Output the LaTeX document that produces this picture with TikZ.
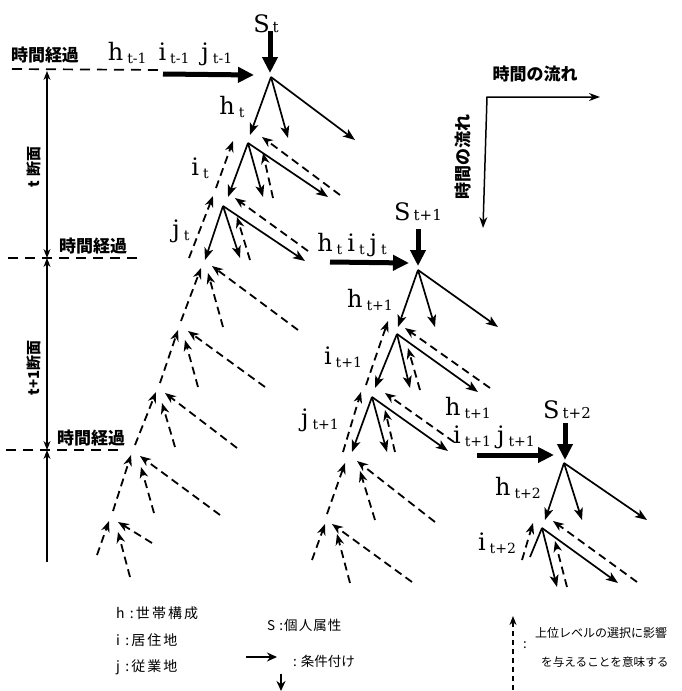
\documentclass[tikz,border=0pt]{standalone}
\usepackage{fontspec}
\setmainfont{DejaVu Serif}
\newfontfamily\jp{Noto Sans CJK JP}
\usetikzlibrary{arrows.meta}
\newcommand\lb[2]{{\fontsize{24}{24}\selectfont #1}\hspace{4pt}\raisebox{-3pt}{\fontsize{14}{14}\selectfont #2}}
\newcommand\lbS[2]{{\fontsize{24}{24}\selectfont #1}\hspace{3pt}{\fontsize{15}{15}\selectfont #2}}
\begin{document}
\begin{tikzpicture}[x=1pt,y=-1pt,
  sol/.style={line width=1.7pt,-{Stealth[length=12pt,width=9pt,inset=3pt]}},
  dsh/.style={line width=1.8pt,dash pattern=on 8pt off 5pt,-{Stealth[length=11pt,width=8.5pt,inset=3.5pt]}},
  plain/.style={line width=1.7pt},
  thk/.style={line width=5pt,-{Triangle[length=16pt,width=15pt]}},
  hd/.style={line width=1.7pt,dash pattern=on 10pt off 7pt},
  ax/.style={line width=1.2pt},
  jt/.style={font=\jp\bfseries\fontsize{17}{17}\selectfont,inner sep=0pt},
  lab/.style={inner sep=0pt},
  leg/.style={font=\jp\fontsize{13}{13}\selectfont,inner sep=0pt,anchor=west},
]
\useasboundingbox (0,0) rectangle (681,691);

% ---------- left time axis ----------
\coordinate (v0) at (47,71);
\coordinate (v1) at (47,258);
\coordinate (v2) at (47,450);
\coordinate (v3) at (47,562);
\draw[ax,{Stealth[length=9pt,width=7pt]}-{Stealth[length=9pt,width=7pt]}] (v0) -- (v1);
\draw[ax,{Stealth[length=9pt,width=7pt]}-{Stealth[length=9pt,width=7pt]}] (v1) -- (v2);
\draw[ax,{Stealth[length=9pt,width=7pt]}-] (v2) -- (v3);
\coordinate (h0a) at (12,69); \coordinate (h0b) at (162,70);
\coordinate (h1a) at (8,258); \coordinate (h1b) at (140,258);
\coordinate (h2a) at (6,450); \coordinate (h2b) at (118,450);
\draw[hd] (h0a) -- (h0b);
\draw[hd] (h1a) -- (h1b);
\draw[hd] (h2a) -- (h2b);
\node[jt] (k0) at (45,55) {時間経過};
\node[jt] (k1) at (93,246) {時間経過};
\node[jt] (k2) at (91,438) {時間経過};
\node[jt,rotate=90,font=\jp\bfseries\fontsize{15}{15}\selectfont] (d1) at (34,167) {t 断面};
\node[jt,rotate=90,font=\jp\bfseries\fontsize{15}{15}\selectfont] (d2) at (34,368) {t+1断面};

% ---------- top right axes ----------
\coordinate (c0) at (487,97);
\coordinate (c1) at (600,97);
\coordinate (c2) at (483,228);
\draw[line width=1.5pt,{Stealth[length=11pt,width=8pt]}-{Stealth[length=11pt,width=8pt]}] (c2) -- (c0) -- (c1);
\node[jt] (f1) at (535,74) {時間の流れ};
\node[jt,rotate=90] (f2) at (463,157) {時間の流れ};

% ---------- tree 1 ----------
\coordinate (T1a) at (270,31); \coordinate (T1b) at (270,73);
\coordinate (T1c) at (163,74); \coordinate (T1d) at (254,75);
\draw[thk] (T1a) -- (T1b);
\draw[thk] (T1c) -- (T1d);
\node[lab] (s1) at (266,24) {\lbS{S}{t}};
\node[lab] (g1) at (170,54) {\lb{h}{t-1}\hspace{12pt}\lb{i}{t-1}\hspace{12pt}\lb{j}{t-1}};
\node[lab] (l1h) at (232,107) {\lb{h}{t}};
\node[lab] (l1i) at (200,168) {\lb{i}{t}};
\node[lab] (l1j) at (181,231) {\lb{j}{t}};

\coordinate (R1) at (271,77);
\coordinate (R1L) at (250,135); \coordinate (R1M) at (288,138); \coordinate (R1R) at (355,140);
\draw[sol] (R1) -- (R1L); \draw[sol] (R1) -- (R1M); \draw[sol] (R1) -- (R1R);
\coordinate (A1) at (248,143);
\coordinate (A1L) at (228,197); \coordinate (A1M) at (263,197); \coordinate (A1R) at (328,197);
\draw[sol] (A1) -- (A1L); \draw[sol] (A1) -- (A1M); \draw[sol] (A1) -- (A1R);
\coordinate (A1dR) at (340,195); \coordinate (A1dRt) at (262,137);
\coordinate (A1dM) at (273,198); \coordinate (A1dMt) at (263,153);
\draw[dsh] (A1dR) -- (A1dRt); \draw[dsh] (A1dM) -- (A1dMt);
\coordinate (B1) at (223,206);
\coordinate (B1L) at (205,260); \coordinate (B1M) at (240,258); \coordinate (B1R) at (305,261);
\draw[sol] (B1) -- (B1L); \draw[sol] (B1) -- (B1M); \draw[sol] (B1) -- (B1R);
\coordinate (B1dR) at (308,251); \coordinate (B1dRt) at (235,198);
\coordinate (B1dM) at (250,260); \coordinate (B1dMt) at (237,217);
\draw[dsh] (B1dR) -- (B1dRt); \draw[dsh] (B1dM) -- (B1dMt);
% spine
\coordinate (p1a) at (216,188); \coordinate (p1b) at (233,141);
\coordinate (p2a) at (189,258); \coordinate (p2b) at (213,196);
\coordinate (p3a) at (181,321); \coordinate (p3b) at (201,268);
\coordinate (p4a) at (160,383); \coordinate (p4b) at (178,330);
\coordinate (p5a) at (135,445); \coordinate (p5b) at (156,392);
\coordinate (p6a) at (113,511); \coordinate (p6b) at (131,455);
\coordinate (p7a) at (97,555);  \coordinate (p7b) at (109,521);
\foreach \k in {1,...,7} {\draw[dsh] (p\k a) -- (p\k b);}
% incoming dashed
\coordinate (q1a) at (223,327); \coordinate (q1b) at (208,273);
\coordinate (r1a) at (298,330); \coordinate (r1b) at (212,266);
\coordinate (q2a) at (198,387); \coordinate (q2b) at (185,340);
\coordinate (r2a) at (265,387); \coordinate (r2b) at (188,331);
\coordinate (q3a) at (175,447); \coordinate (q3b) at (162,403);
\coordinate (r3a) at (237,448); \coordinate (r3b) at (165,393);
\coordinate (q4a) at (154,513); \coordinate (q4b) at (141,467);
\coordinate (r4a) at (220,515); \coordinate (r4b) at (140,456);
\coordinate (q5a) at (130,577); \coordinate (q5b) at (118,532);
\coordinate (r5a) at (152,543); \coordinate (r5b) at (118,522);
\foreach \k in {1,...,5} {\draw[dsh] (q\k a) -- (q\k b); \draw[dsh] (r\k a) -- (r\k b);}

% ---------- tree 2 ----------
\coordinate (T2a) at (418,229); \coordinate (T2b) at (418,266);
\coordinate (T2c) at (330,262); \coordinate (T2d) at (409,263);
\draw[thk] (T2a) -- (T2b);
\draw[thk] (T2c) -- (T2d);
\node[lab] (s2) at (418,212) {\lbS{S}{t+1}};
\node[lab] (g2) at (352,245) {\lb{h}{t}\hspace{5pt}\lb{i}{t}\hspace{5pt}\lb{j}{t}};
\node[lab] (l2h) at (370,300) {\lb{h}{t+1}};
\node[lab] (l2i) at (343,357) {\lb{i}{t+1}};
\node[lab] (l2j) at (320,420) {\lb{j}{t+1}};
\node[lab] (l2x) at (468,408) {\lb{h}{t+1}};
\node[lab] (l2y) at (494,437) {\lb{i}{t+1}\hspace{6pt}\lb{j}{t+1}};

\coordinate (R2) at (418,270);
\coordinate (R2L) at (398,327); \coordinate (R2M) at (435,327); \coordinate (R2R) at (498,327);
\draw[sol] (R2) -- (R2L); \draw[sol] (R2) -- (R2M); \draw[sol] (R2) -- (R2R);
\coordinate (A2) at (397,334);
\coordinate (A2L) at (375,388); \coordinate (A2M) at (410,388); \coordinate (A2R) at (478,392);
\draw[sol] (A2) -- (A2L); \draw[sol] (A2) -- (A2M); \draw[sol] (A2) -- (A2R);
\coordinate (A2dR) at (490,388); \coordinate (A2dRt) at (405,328);
\coordinate (A2dM) at (420,390); \coordinate (A2dMt) at (408,348);
\draw[dsh] (A2dR) -- (A2dRt); \draw[dsh] (A2dM) -- (A2dMt);
\coordinate (B2) at (372,397);
\coordinate (B2L) at (352,452); \coordinate (B2M) at (387,452); \coordinate (B2R) at (448,451);
\draw[sol] (B2) -- (B2L); \draw[sol] (B2) -- (B2M); \draw[sol] (B2) -- (B2R);
\coordinate (B2dR) at (454,442); \coordinate (B2dRt) at (385,393);
\coordinate (B2dM) at (395,452); \coordinate (B2dMt) at (385,410);
\draw[dsh] (B2dR) -- (B2dRt); \draw[dsh] (B2dM) -- (B2dMt);
\coordinate (u1a) at (366,385); \coordinate (u1b) at (388,321);
\coordinate (u2a) at (343,452); \coordinate (u2b) at (361,392);
\coordinate (u3a) at (327,514); \coordinate (u3b) at (345,463);
\coordinate (u4a) at (312,560); \coordinate (u4b) at (325,524);
\foreach \k in {1,...,4} {\draw[dsh] (u\k a) -- (u\k b);}
\coordinate (w1a) at (375,520); \coordinate (w1b) at (360,471);
\coordinate (x1a) at (435,522); \coordinate (x1b) at (357,461);
\coordinate (w2a) at (350,583); \coordinate (w2b) at (337,534);
\coordinate (x2a) at (412,582); \coordinate (x2b) at (332,524);
\foreach \k in {1,2} {\draw[dsh] (w\k a) -- (w\k b); \draw[dsh] (x\k a) -- (x\k b);}

% ---------- tree 3 ----------
\coordinate (T3a) at (565,423); \coordinate (T3b) at (565,460);
\coordinate (T3c) at (477,455); \coordinate (T3d) at (554,455);
\draw[thk] (T3a) -- (T3b);
\draw[thk] (T3c) -- (T3d);
\node[lab] (s3) at (567,410) {\lbS{S}{t+2}};
\node[lab] (l3h) at (518,488) {\lb{h}{t+2}};
\node[lab] (l3i) at (497,543) {\lb{i}{t+2}};

\coordinate (R3) at (564,463);
\coordinate (R3L) at (545,520); \coordinate (R3M) at (582,520); \coordinate (R3R) at (647,520);
\draw[sol] (R3) -- (R3L); \draw[sol] (R3) -- (R3M); \draw[sol] (R3) -- (R3R);
\coordinate (A3) at (542,528);
\coordinate (A3L) at (530,557); \coordinate (A3M) at (557,587); \coordinate (A3R) at (618,583);
\draw[plain] (A3) -- (A3L); \draw[sol] (A3) -- (A3M); \draw[sol] (A3) -- (A3R);
\coordinate (A3dR) at (637,582); \coordinate (A3dRt) at (553,521);
\coordinate (A3dM) at (567,587); \coordinate (A3dMt) at (555,541);
\coordinate (A3sp) at (522,560); \coordinate (A3spt) at (533,523);
\draw[dsh] (A3dR) -- (A3dRt); \draw[dsh] (A3dM) -- (A3dMt); \draw[dsh] (A3sp) -- (A3spt);

% ---------- legend ----------
\node[leg,font=\jp\fontsize{14}{14}\selectfont\addfontfeature{LetterSpace=15}] (e1) at (116,613) {h :世帯構成};
\node[leg,font=\jp\fontsize{14}{14}\selectfont\addfontfeature{LetterSpace=15}] (e2) at (116,640) {i :居住地};
\node[leg,font=\jp\fontsize{14}{14}\selectfont\addfontfeature{LetterSpace=15}] (e3) at (116,667) {j :従業地};
\node[leg,font=\jp\fontsize{13.5}{13.5}\selectfont\addfontfeature{LetterSpace=8}] (e4) at (267,625) {S :個人属性};
\coordinate (m1) at (246,657); \coordinate (m2) at (277,657);
\coordinate (m3) at (281,674); \coordinate (m4) at (281,691);
\draw[line width=2pt,-{Stealth[length=10pt,width=9pt]}] (m1) -- (m2);
\draw[line width=2pt,-{Stealth[length=10pt,width=9pt]}] (m3) -- (m4);
\node[leg,font=\jp\fontsize{13.5}{13.5}\selectfont] (e5) at (293,661) {:\hspace{4pt}条件付け};
\coordinate (n1) at (513,690); \coordinate (n2) at (513,616);
\draw[line width=1.3pt,dash pattern=on 5pt off 4pt,-{Stealth[length=9pt,width=7pt]}] (n1) -- (n2);
\node[leg] (e6) at (523,645) {:};
\node[leg,font=\jp\fontsize{12}{12}\selectfont] (e7) at (535,633) {上位レベルの選択に影響};
\node[leg,font=\jp\fontsize{11.6}{11.6}\selectfont] (e8) at (541,662) {を与えることを意味する};
\end{tikzpicture}
\end{document}
